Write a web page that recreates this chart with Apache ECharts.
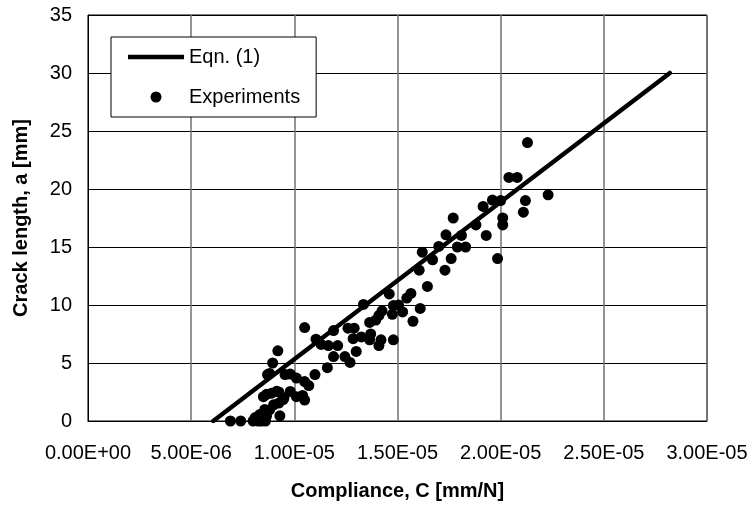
<!DOCTYPE html>
<html>
<head>
<meta charset="utf-8">
<script src="https://cdn.jsdelivr.net/npm/echarts@6/dist/echarts.min.js"></script>
<style>
  html, body { margin: 0; padding: 0; background: #fff; }
  #chart { width: 752px; height: 506px; }
</style>
</head>
<body>
<div id="chart"></div>
<script>
// Tick labels
const xTickLabels = ['0.00E+00', '5.00E-06', '1.00E-05', '1.50E-05', '2.00E-05', '2.50E-05', '3.00E-05'];
const yTickLabels = ['0', '5', '10', '15', '20', '25', '30', '35'];

// Eqn. (1) line endpoints
const eqnC = [6.07e-6, 2.82e-5];
const eqnA = [0, 30];

// Experimental points: compliance C [mm/N] and crack length a [mm]
const expC = [
  6.9e-6, 7.4e-6, 8.0e-6, 8.25e-6, 8.4e-6, 8.6e-6, 8.1e-6, 8.33e-6, 8.65e-6, 8.57e-6,
  8.8e-6, 9.0e-6, 9.3e-6, 9.25e-6, 9.46e-6, 8.5e-6, 8.65e-6, 8.9e-6, 9.14e-6, 9.25e-6,
  9.5e-6, 9.8e-6, 10.1e-6, 10.4e-6, 10.5e-6, 10.7e-6, 10.5e-6, 10.1e-6, 9.8e-6, 9.55e-6,
  8.8e-6, 8.7e-6, 8.95e-6, 9.2e-6, 11.0e-6, 11.6e-6, 10.5e-6, 11.05e-6, 11.3e-6, 11.65e-6,
  12.1e-6, 11.9e-6, 11.9e-6, 12.45e-6, 12.7e-6, 12.6e-6, 12.9e-6, 12.85e-6, 13.0e-6, 13.25e-6,
  13.35e-6, 13.65e-6, 13.7e-6, 13.65e-6, 13.95e-6, 14.1e-6, 14.2e-6, 14.1e-6, 14.25e-6, 14.6e-6,
  14.8e-6, 14.75e-6, 14.8e-6, 15.05e-6, 15.25e-6, 15.45e-6, 15.65e-6, 15.75e-6, 16.1e-6, 16.05e-6,
  16.45e-6, 16.2e-6, 16.7e-6, 17.6e-6, 17.3e-6, 19.85e-6, 17.0e-6, 17.9e-6, 18.3e-6, 17.35e-6,
  18.1e-6, 19.3e-6, 17.7e-6, 18.8e-6, 20.1e-6, 20.1e-6, 19.15e-6, 19.6e-6, 20.0e-6, 21.2e-6,
  21.1e-6, 22.3e-6, 20.4e-6, 20.8e-6, 21.3e-6
];
const expA = [
  0, 0, 0, 0, 0, 0, 0.3, 0.57, 0.4, 1.0,
  0.95, 1.4, 0.45, 1.55, 1.85, 2.1, 2.3, 2.4, 2.56, 2.5,
  2.0, 2.55, 2.1, 2.2, 1.8, 3.05, 3.4, 3.7, 4.05, 4.0,
  4.1, 4.0, 5.0, 6.05, 4.0, 4.6, 8.05, 7.05, 6.6, 6.5,
  6.5, 7.8, 5.55, 5.55, 5.05, 8.0, 8.0, 7.1, 6.0, 7.25,
  10.05, 8.5, 7.5, 7.0, 8.7, 6.5, 7.0, 9.1, 9.5, 10.95,
  9.95, 9.2, 7.0, 10.0, 9.4, 10.6, 11.0, 8.6, 9.7, 13.0,
  11.6, 14.55, 13.9, 14.0, 13.0, 14.0, 15.05, 15.0, 15.0, 16.05,
  16.0, 16.0, 17.5, 16.9, 17.5, 16.9, 18.5, 19.05, 19.0, 19.0,
  18.0, 19.5, 21.0, 21.0, 24.0
];

const FONT = '"Liberation Sans", Arial, sans-serif';
const X_STEP = 5e-6;

const chart = echarts.init(document.getElementById('chart'), null, { renderer: 'canvas' });

chart.setOption({
  animation: false,
  backgroundColor: '#ffffff',
  textStyle: { fontFamily: FONT, color: '#000' },
  grid: {
    left: 88, right: 45, top: 15, bottom: 81,
    show: true, borderColor: '#000', borderWidth: 1, backgroundColor: 'transparent'
  },
  legend: {
    orient: 'vertical',
    left: 111, top: 37,
    padding: [9, 16, 9, 17],
    itemGap: 18,
    itemWidth: 56, itemHeight: 11,
    backgroundColor: '#fff',
    borderColor: '#000', borderWidth: 1,
    borderRadius: 0,
    textStyle: { fontFamily: FONT, fontSize: 20, color: '#000', lineHeight: 22 },
    data: [
      { name: 'Eqn. (1)', icon: 'path://M0,0L56,0L56,4.5L0,4.5Z' },
      { name: 'Experiments', icon: 'circle' }
    ]
  },
  xAxis: {
    type: 'value',
    min: 0, max: 3e-5, interval: X_STEP,
    name: 'Compliance, C [mm/N]',
    nameLocation: 'middle',
    nameGap: 60,
    nameTextStyle: { fontFamily: FONT, fontSize: 20, fontWeight: 'bold', color: '#000' },
    axisLine: { show: true, lineStyle: { color: '#000', width: 1 } },
    axisTick: { show: false },
    axisLabel: {
      margin: 22, fontSize: 20, color: '#000', fontFamily: FONT,
      formatter: function (v) { return xTickLabels[Math.round(v / X_STEP)]; }
    },
    splitLine: { show: true, lineStyle: { color: '#707070', width: 1.5 } }
  },
  yAxis: {
    type: 'value',
    min: 0, max: 35, interval: 5,
    name: 'Crack length, a [mm]',
    nameLocation: 'middle',
    nameGap: 57,
    nameTextStyle: { fontFamily: FONT, fontSize: 20, fontWeight: 'bold', color: '#000' },
    axisLine: { show: true, lineStyle: { color: '#000', width: 1 } },
    axisTick: { show: false },
    axisLabel: {
      margin: 16, fontSize: 20, color: '#000', fontFamily: FONT,
      formatter: function (v) { return yTickLabels[Math.round(v / 5)]; }
    },
    splitLine: { show: true, lineStyle: { color: '#000', width: 1 } }
  },
  series: [
    {
      name: 'Eqn. (1)',
      type: 'line',
      data: eqnC.map((c, i) => [c, eqnA[i]]),
      symbol: 'none',
      lineStyle: { color: '#000', width: 4.5, cap: 'round' },
      itemStyle: { color: '#000' },
      z: 3
    },
    {
      name: 'Experiments',
      type: 'scatter',
      data: expC.map((c, i) => [c, expA[i]]),
      symbol: 'circle',
      symbolSize: 11,
      itemStyle: { color: '#000', opacity: 1 },
      z: 4
    }
  ]
});
</script>
</body>
</html>
